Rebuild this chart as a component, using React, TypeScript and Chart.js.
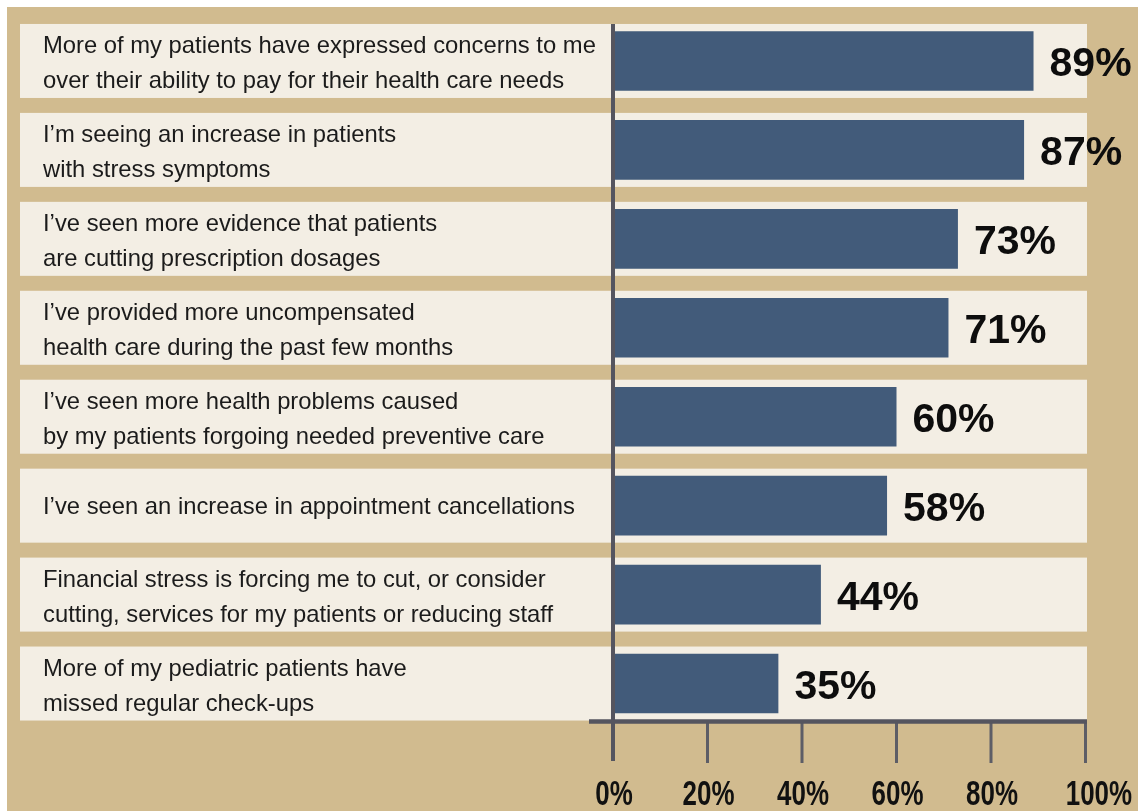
import React, { useEffect, useRef } from "react";
import { Chart, registerables } from "chart.js";

Chart.register(...registerables);

const categories: string[][] = [
  ["More of my patients have expressed concerns to me", "over their ability to pay for their health care needs"],
  ["I’m seeing an increase in patients", "with stress symptoms"],
  ["I’ve seen more evidence that patients", "are cutting prescription dosages"],
  ["I’ve provided more uncompensated", "health care during the past few months"],
  ["I’ve seen more health problems caused", "by my patients forgoing needed preventive care"],
  ["I’ve seen an increase in appointment cancellations"],
  ["Financial stress is forcing me to cut, or consider", "cutting, services for my patients or reducing staff"],
  ["More of my pediatric patients have", "missed regular check-ups"],
];

const values: number[] = [89, 87, 73, 71, 60, 58, 44, 35];

const tickValues: number[] = [0, 20, 40, 60, 80, 100];

const TAN = "#d1bb8f";
const CREAM = "#f3eee4";
const BAR = "#425b7a";
const AXIS = "#55555f";
const TEXT = "#1b1b1b";
const FONT = "'Liberation Sans', Arial, Helvetica, sans-serif";

const decorPlugin = {
  id: "decor",
  beforeDraw(chart: any) {
    const { ctx, width, height } = chart;
    const xs = chart.scales.x;
    const ys = chart.scales.y;
    ctx.save();
    ctx.fillStyle = "#ffffff";
    ctx.fillRect(0, 0, width, height);
    ctx.fillStyle = TAN;
    ctx.fillRect(7, 7, width - 7, height - 7);
    const rowH = 74;
    const right = xs.getPixelForValue(100) + 1.5;
    categories.forEach((lines, i) => {
      const c = ys.getPixelForValue(i);
      ctx.fillStyle = CREAM;
      ctx.fillRect(20, c - rowH / 2, right - 20, rowH);
      ctx.fillStyle = TEXT;
      ctx.font = `23.8px ${FONT}`;
      ctx.textBaseline = "alphabetic";
      ctx.textAlign = "left";
      if (lines.length === 1) {
        ctx.fillText(lines[0], 43, c + 8.5);
      } else {
        ctx.fillText(lines[0], 43, c - 8);
        ctx.fillText(lines[1], 43, c + 27);
      }
    });
    ctx.restore();
  },
  afterDatasetsDraw(chart: any) {
    const { ctx, width } = chart;
    const xs = chart.scales.x;
    const ys = chart.scales.y;
    const x0 = xs.getPixelForValue(0);
    const x100 = xs.getPixelForValue(100);
    const axisY = 721.5;
    ctx.save();
    // tick marks
    ctx.strokeStyle = "#5d5d66";
    ctx.lineWidth = 3;
    tickValues.forEach((v) => {
      if (v === 0) return;
      const x = xs.getPixelForValue(v);
      ctx.beginPath();
      ctx.moveTo(x, axisY);
      ctx.lineTo(x, 763);
      ctx.stroke();
    });
    // vertical axis
    ctx.strokeStyle = AXIS;
    ctx.lineWidth = 4;
    ctx.beginPath();
    ctx.moveTo(x0, 24);
    ctx.lineTo(x0, 761);
    ctx.stroke();
    // horizontal axis
    ctx.lineWidth = 4.5;
    ctx.beginPath();
    ctx.moveTo(589, axisY);
    ctx.lineTo(x100 + 1.5, axisY);
    ctx.stroke();
    // tick labels (condensed)
    ctx.fillStyle = "#111";
    ctx.font = `bold 35px ${FONT}`;
    ctx.textBaseline = "alphabetic";
    tickValues.forEach((v, i) => {
      const last = i === tickValues.length - 1;
      const x = last ? width - 6 : xs.getPixelForValue(v) + 1;
      ctx.save();
      ctx.textAlign = last ? "right" : "center";
      ctx.translate(x, 805);
      ctx.scale(0.74, 1);
      ctx.fillText(`${v}%`, 0, 0);
      ctx.restore();
    });
    // value labels
    ctx.fillStyle = "#0d0d0d";
    ctx.font = `bold 41px ${FONT}`;
    ctx.textAlign = "left";
    values.forEach((v, i) => {
      const c = ys.getPixelForValue(i);
      const xe = xs.getPixelForValue(v);
      ctx.fillText(`${v}%`, xe + 16, c + 15);
    });
    ctx.restore();
  },
};

export default function App() {
  const ref = useRef<HTMLCanvasElement | null>(null);
  useEffect(() => {
    document.body.style.margin = "0";
    document.body.style.overflow = "hidden";
    if (!ref.current) return;
    const chart = new Chart(ref.current, {
      type: "bar",
      data: {
        labels: categories.map((l) => l.join(" ")),
        datasets: [
          {
            data: values,
            backgroundColor: BAR,
            borderWidth: 0,
            barPercentage: 0.67,
            categoryPercentage: 1,
          },
        ],
      },
      options: {
        indexAxis: "y",
        responsive: false,
        animation: false,
        devicePixelRatio: 1,
        layout: { padding: { left: 613, right: 52.5, top: 16.5, bottom: 83 } },
        plugins: {
          legend: { display: false },
          tooltip: { enabled: false },
          title: { display: false },
        },
        scales: {
          x: { display: false, min: 0, max: 100 },
          y: { display: false, offset: true },
        },
      },
      plugins: [decorPlugin],
    } as any);
    return () => chart.destroy();
  }, []);
  return (
    <div style={{ width: 1138, height: 811 }}>
      <canvas ref={ref} width={1138} height={811} style={{ display: "block" }} />
    </div>
  );
}
